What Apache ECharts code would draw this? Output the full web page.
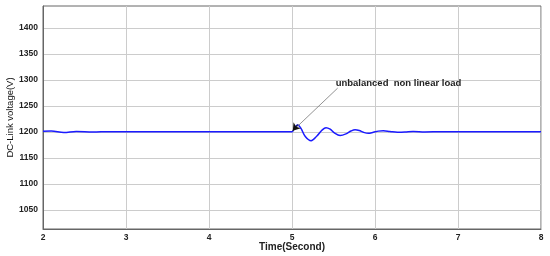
<!DOCTYPE html>
<html><head><meta charset="utf-8">
<script src="https://cdn.jsdelivr.net/npm/echarts@6/dist/echarts.min.js"></script>
<style>html,body{margin:0;padding:0;background:#fff}#c{width:550px;height:256px}</style>
</head><body><div id="c"></div>
<script>
// Time (s) and DC-link voltage (V)
const timeS = [2.0, 2.1, 2.25, 2.4, 2.6, 2.8, 3.0, 3.5, 4.0, 4.5, 4.95, 5.0, 5.035, 5.07, 5.11, 5.16, 5.23, 5.30, 5.36, 5.41, 5.46, 5.51, 5.58, 5.65, 5.71, 5.76, 5.81, 5.86, 5.92, 5.98, 6.04, 6.10, 6.18, 6.27, 6.36, 6.46, 6.6, 6.8, 7.0, 7.5, 8.0];
const voltage = [1201, 1201.5, 1198.5, 1200.8, 1199.5, 1200.3, 1200, 1200, 1200, 1200, 1200, 1200, 1209, 1213, 1206, 1191, 1183, 1192, 1203, 1208, 1205, 1198, 1193, 1196, 1201.5, 1204, 1202.5, 1199, 1197, 1199, 1201.3, 1202, 1200.5, 1199, 1199.4, 1200.8, 1199.7, 1200.3, 1200, 1200, 1200];
const xTicks = [2, 3, 4, 5, 6, 7, 8];
const yTicks = [1050, 1100, 1150, 1200, 1250, 1300, 1350, 1400];
const yRange = [1013, 1442];
const annotationText = 'unbalanced  non linear load';
const arrowFrom = [5.55, 1284];
const arrowHeadStart = [5.07, 1214];
const arrowTo = [5.01, 1202];

const chart = echarts.init(document.getElementById('c'));
const fontBold = {fontFamily: 'Liberation Sans, Arial, sans-serif', fontWeight: 'bold', color: '#222', fontSize: 9};
chart.setOption({
  animation: false,
  grid: {left: 43, right: 9, top: 6, bottom: 27, show: true, borderColor: '#666', borderWidth: 1, containLabel: false, outerBoundsMode: 'none'},
  xAxis: {
    type: 'value', min: xTicks[0], max: xTicks[xTicks.length - 1], interval: 1,
    name: 'Time(Second)', nameLocation: 'middle', nameGap: 13, nameMoveOverlap: false,
    nameTextStyle: Object.assign({}, fontBold, {fontSize: 10, verticalAlign: 'top'}),
    axisLine: {lineStyle: {color: '#666'}},
    axisTick: {show: false},
    axisLabel: Object.assign({}, fontBold, {margin: 4, fontSize: 8.5, formatter: v => String(v)}),
    splitLine: {lineStyle: {color: '#ccc'}}
  },
  yAxis: {
    type: 'value', min: yRange[0], max: yRange[1],
    name: 'DC-Link voltage(V)', nameLocation: 'middle', nameGap: 28, nameMoveOverlap: false,
    nameTextStyle: Object.assign({}, fontBold, {fontSize: 9.5, fontWeight: 'normal', color: '#111'}),
    axisLine: {show: true, lineStyle: {color: '#666'}},
    axisTick: {show: false, customValues: yTicks},
    axisLabel: Object.assign({}, fontBold, {customValues: yTicks, margin: 5, fontSize: 8.5, formatter: v => String(v)}),
    splitLine: {show: true, lineStyle: {color: '#ccc'}}
  },
  series: [{
    type: 'line',
    data: timeS.map((t, i) => [t, voltage[i]]),
    smooth: 0.35,
    symbol: 'none',
    lineStyle: {color: '#1a1aff', width: 1.5},
    markLine: {
      silent: true,
      symbol: ['none', 'none'],
      lineStyle: {color: '#777', width: 0.8, type: 'solid'},
      label: {show: false},
      data: [
        [{coord: arrowFrom}, {coord: arrowTo}],
        [{coord: arrowHeadStart, lineStyle: {color: '#111', width: 1}}, {coord: arrowTo, symbol: 'arrow', symbolSize: 7}]
      ]
    },
    markPoint: {
      silent: true,
      symbol: 'circle', symbolSize: 0,
      label: Object.assign({}, fontBold, {show: true, formatter: annotationText, position: 'right', distance: 0, offset: [-2, -5], fontSize: 9.5}),
      data: [{coord: arrowFrom}]
    }
  }]
});
</script></body></html>
